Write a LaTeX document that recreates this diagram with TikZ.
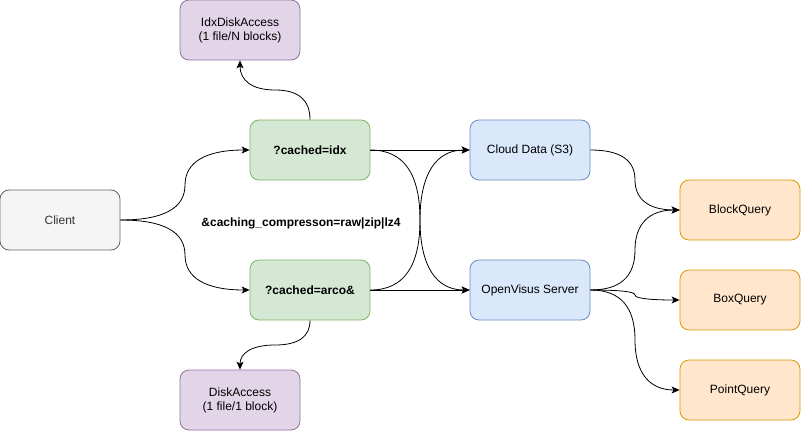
\documentclass[tikz,border=0pt]{standalone}
\usepackage{fontspec}
\setmainfont{Liberation Sans}
\usetikzlibrary{arrows.meta,calc}
\definecolor{grayfill}{HTML}{F5F5F5}
\definecolor{graystroke}{HTML}{666666}
\definecolor{graytext}{HTML}{333333}
\definecolor{greenfill}{HTML}{D5E8D4}
\definecolor{greenstroke}{HTML}{82B366}
\definecolor{bluefill}{HTML}{DAE8FC}
\definecolor{bluestroke}{HTML}{6C8EBF}
\definecolor{orangefill}{HTML}{FFE6CC}
\definecolor{orangestroke}{HTML}{D79B00}
\definecolor{purplefill}{HTML}{E1D5E7}
\definecolor{purplestroke}{HTML}{9673A6}
\tikzset{
  box/.style={draw, rounded corners=9pt, minimum width=120pt, minimum height=60pt,
    inner sep=0pt, align=center, line width=0.8pt, font=\fontsize{12}{14}\selectfont},
  graybox/.style={box, fill=grayfill, draw=graystroke, text=graytext},
  greenbox/.style={box, fill=greenfill, draw=greenstroke, font=\fontsize{12}{14}\selectfont\bfseries},
  bluebox/.style={box, fill=bluefill, draw=bluestroke},
  orangebox/.style={box, fill=orangefill, draw=orangestroke},
  purplebox/.style={box, fill=purplefill, draw=purplestroke},
  conn/.style={line width=0.8pt, -{Stealth[length=8pt,width=7pt,inset=2pt]}},
  hcurve/.style={to path={let \p1=(\tikztostart),\p2=(\tikztotarget),
     \n1={0.5*(\x1+\x2)},\n2={0.5*(\y1+\y2)},
     \n3={\x1+0.667*(\n1-\x1)},\n4={\n2+0.667*(\y1-\n2)},
     \n5={\n2+0.667*(\y2-\n2)},\n6={\x2+0.667*(\n1-\x2)} in
     .. controls (\n3,\y1) and (\n1,\n4) .. (\n1,\n2)
     .. controls (\n1,\n5) and (\n6,\y2) .. (\p2)}},
  vcurve/.style={to path={let \p1=(\tikztostart),\p2=(\tikztotarget),
     \n1={0.5*(\x1+\x2)},\n2={0.5*(\y1+\y2)},
     \n3={\y1+0.667*(\n2-\y1)},\n4={\n1+0.667*(\x1-\n1)},
     \n5={\n1+0.667*(\x2-\n1)},\n6={\y2+0.667*(\n2-\y2)} in
     .. controls (\x1,\n3) and (\n4,\n2) .. (\n1,\n2)
     .. controls (\n5,\n2) and (\x2,\n6) .. (\p2)}},
}
\begin{document}
\begin{tikzpicture}[x=1pt,y=-1pt]
\useasboundingbox (0,0) rectangle (801,431);
\node[graybox] (client) at (60,220) {Client};
\node[greenbox] (idx) at (310,150) {?cached=idx};
\node[greenbox] (arco) at (310,290) {?cached=arco\&};
\node[purplebox] (idxdisk) at (240,30) {IdxDiskAccess\\(1 file/N blocks)};
\node[purplebox] (disk) at (240,400) {DiskAccess\\(1 file/1 block)};
\node[bluebox] (cloud) at (530,150) {Cloud Data (S3)};
\node[bluebox] (ovs) at (530,290) {OpenVisus Server};
\node[orangebox] (block) at (740,210) {BlockQuery};
\node[orangebox] (boxq) at (740,300) {BoxQuery};
\node[orangebox] (point) at (740,390) {PointQuery};
\node[font=\fontsize{12}{14}\selectfont\bfseries] (lbl) at (301,223) {\&caching\_compresson=raw|zip|lz4};

\draw[conn] (client.east) to[hcurve] (idx.west);
\draw[conn] (client.east) to[hcurve] (arco.west);
\draw[conn] (idx.north) to[vcurve] (idxdisk.south);
\draw[conn] (arco.south) to[vcurve] (disk.north);
\draw[conn] (idx.east) -- (cloud.west);
\draw[conn] (idx.east) to[hcurve] (ovs.west);
\draw[conn] (arco.east) to[hcurve] (cloud.west);
\draw[conn] (arco.east) -- (ovs.west);
\draw[conn] (cloud.east) to[hcurve] (block.west);
\draw[conn] (ovs.east) to[hcurve] (block.west);
\draw[conn] (ovs.east) to[hcurve] (boxq.west);
\draw[conn] (ovs.east) to[hcurve] (point.west);
\end{tikzpicture}
\end{document}
